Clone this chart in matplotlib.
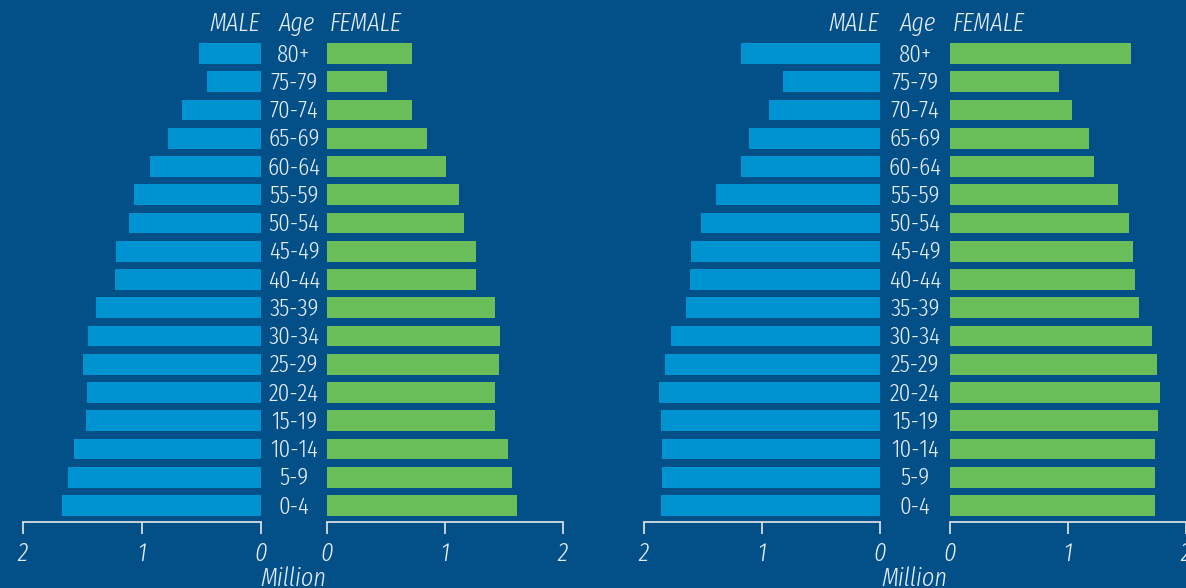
import matplotlib
matplotlib.use('Agg')
import matplotlib.pyplot as plt
from matplotlib.transforms import blended_transform_factory

# age groups, bottom to top
ages = ['0-4', '5-9', '10-14', '15-19', '20-24', '25-29', '30-34', '35-39', '40-44',
        '45-49', '50-54', '55-59', '60-64', '65-69', '70-74', '75-79', '80+']

# millions
male_a = [1.67, 1.62, 1.57, 1.47, 1.46, 1.50, 1.45, 1.39, 1.23, 1.22, 1.11, 1.07, 0.93, 0.78, 0.66, 0.45, 0.52]
female_a = [1.61, 1.57, 1.53, 1.42, 1.42, 1.46, 1.47, 1.42, 1.26, 1.26, 1.16, 1.12, 1.01, 0.85, 0.72, 0.51, 0.72]
male_b = [1.86, 1.85, 1.85, 1.86, 1.87, 1.82, 1.77, 1.64, 1.61, 1.60, 1.52, 1.39, 1.18, 1.11, 0.94, 0.82, 1.18]
female_b = [1.74, 1.74, 1.74, 1.76, 1.78, 1.75, 1.71, 1.60, 1.57, 1.55, 1.52, 1.42, 1.22, 1.18, 1.03, 0.92, 1.53]

x_ticks = [0, 1, 2]
x_ticklabels = ['0', '1', '2']

bg = '#035089'
c_male = '#0093d2'
c_female = '#6abe5a'
c_text = '#e4ecf5'
c_axis = '#d5dce6'

plt.rcParams['font.family'] = ['Fira Sans Extra Condensed', 'DejaVu Sans']
plt.rcParams['font.weight'] = 300

W, H = 1186, 588
fig = plt.figure(figsize=(W / 100, H / 100), dpi=100, facecolor=bg)

fs = 19       # italic texts
fs_age = 18   # age labels
bottom = (H - 522) / H
height = (522 - 35) / H
ylo = -0.584
yhi = 16.655


def make_axes(x0, x1, vals, color, flip):
    ax = fig.add_axes([x0 / W, bottom, (x1 - x0) / W, height])
    ax.set_facecolor(bg)
    ax.barh(range(len(ages)), vals, height=0.74, color=color)
    if flip:
        ax.set_xlim(2, 0)
    else:
        ax.set_xlim(0, 2)
    ax.set_ylim(ylo, yhi)
    for s in ['top', 'left', 'right']:
        ax.spines[s].set_visible(False)
    ax.spines['bottom'].set_color(c_axis)
    ax.spines['bottom'].set_linewidth(1.3)
    ax.set_yticks([])
    ax.set_xticks(x_ticks)
    ax.set_xticklabels(x_ticklabels, fontsize=fs, style='italic', weight=300, color=c_text)
    ax.tick_params(axis='x', direction='out', length=8.6, width=1.3, color=c_axis, pad=5)
    return ax


def pyramid(mx0, mx1, fx0, fx1, male, female, mid):
    axm = make_axes(mx0, mx1, male, c_male, True)
    make_axes(fx0, fx1, female, c_female, False)
    tr = blended_transform_factory(fig.transFigure, axm.transData)
    for i, a in enumerate(ages):
        axm.text(mid / W, i - 0.05, a, transform=tr, ha='center', va='center',
                 fontsize=fs_age, weight=300, color=c_text, clip_on=False)
    fig.text((mx1 - 1) / W, (H - 23.5) / H, 'MALE', ha='right', va='center',
             fontsize=fs, style='italic', weight=300, color=c_text)
    fig.text((mid + 3) / W, (H - 23.5) / H, 'Age', ha='center', va='center',
             fontsize=fs, style='italic', weight=300, color=c_text)
    fig.text((fx0 + 3) / W, (H - 23.5) / H, 'FEMALE', ha='left', va='center',
             fontsize=fs, style='italic', weight=300, color=c_text)
    fig.text((mid - 1) / W, (H - 566) / H, 'Million', ha='center', va='top',
             fontsize=fs, style='italic', weight=300, color=c_text)


pyramid(23, 261, 327, 563, male_a, female_a, 294)
pyramid(644, 880, 950, 1186, male_b, female_b, 915)

fig.savefig('out.png', dpi=100, facecolor=bg)
